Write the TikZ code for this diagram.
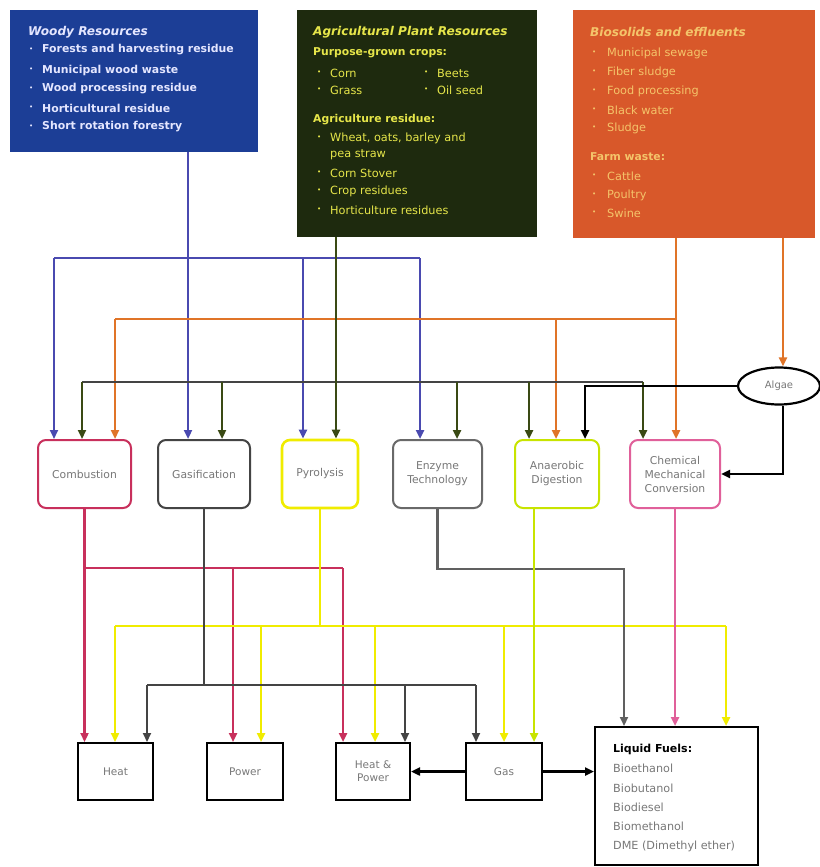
\documentclass[tikz,border=0pt]{standalone}
\usepackage{fontspec}
\setmainfont{DejaVu Sans}
\usetikzlibrary{arrows.meta,shapes.geometric}
\definecolor{woodybg}{HTML}{1C3E96}
\definecolor{woodytx}{HTML}{E4E6FF}
\definecolor{agribg}{HTML}{1E2A0E}
\definecolor{agritx}{HTML}{E6E64A}
\definecolor{orngbg}{HTML}{D8582A}
\definecolor{orngtx}{HTML}{F4C46A}
\definecolor{blueln}{HTML}{4A4AB0}
\definecolor{oliveln}{HTML}{3A4A14}
\definecolor{orangeln}{HTML}{E07428}
\definecolor{crimln}{HTML}{C8305C}
\definecolor{yelln}{HTML}{F0EC00}
\definecolor{ygln}{HTML}{C8E400}
\definecolor{pinkln}{HTML}{E0609A}
\definecolor{grayln}{HTML}{444444}
\definecolor{proctx}{HTML}{787878}
\begin{document}
\begin{tikzpicture}[x=1pt,y=-1pt,
  srcbox/.style={rectangle,inner sep=0pt,anchor=north west},
  title/.style={anchor=west,inner sep=0pt,font=\fontsize{12.1}{14}\selectfont\bfseries\itshape},
  head/.style={anchor=west,inner sep=0pt,font=\fontsize{10.8}{13}\selectfont\bfseries},
  itm/.style={anchor=west,inner sep=0pt,font=\fontsize{11.3}{13}\selectfont},
  bul/.style={anchor=west,inner sep=0pt,font=\fontsize{7}{8}\selectfont},
  proc/.style={rectangle,rounded corners=8pt,draw,line width=2pt,fill=white,
    minimum height=68pt,align=center,inner sep=2pt,text=proctx,
    font=\fontsize{10.8}{14}\selectfont},
  outbox/.style={rectangle,draw=black,line width=2pt,fill=white,
    minimum height=57pt,align=center,inner sep=2pt,text=proctx,
    font=\fontsize{10.5}{13}\selectfont},
  arr/.style={-{Triangle[length=9pt,width=8pt]}},
  bl/.style={draw=blueln,line width=2.4pt},
  ol/.style={draw=oliveln,line width=2.8pt},
  olthin/.style={draw=grayln,line width=1.8pt},
  orl/.style={draw=orangeln,line width=2.8pt},
  cr/.style={draw=crimln,line width=2.8pt},
  yl/.style={draw=yelln,line width=2.8pt},
  yg/.style={draw=ygln,line width=2.8pt},
  pk/.style={draw=pinkln,line width=2.5pt},
  gr/.style={draw=grayln,line width=2.1pt},
  bk/.style={draw=black,line width=2.4pt}
]
\useasboundingbox[fill=white] (0,0) rectangle (819,867);

% ---------- source boxes ----------
\node[srcbox,fill=woodybg,minimum width=248pt,minimum height=142pt] (woody) at (10,10) {};
\node[title,text=woodytx] (wt) at (28,32) {Woody Resources};
\foreach \y/\t [count=\i] in {50/Forests and harvesting residue,70/Municipal wood waste,89/Wood processing residue,108/Horticultural residue,127/Short rotation forestry}{
  \node[bul,text=woodytx] (wb\i) at (29,\y) {•};
  \node[itm,text=woodytx,font=\fontsize{10.9}{13}\selectfont\bfseries] (wi\i) at (42,\y) {\t};
}

\node[srcbox,fill=agribg,minimum width=240pt,minimum height=227pt] (agri) at (297,10) {};
\node[title,text=agritx] (at) at (313,32) {Agricultural Plant Resources};
\node[head,text=agritx] (ah1) at (313,53) {Purpose-grown crops:};
\node[bul,text=agritx] (ab1) at (317,73) {•};
\node[itm,text=agritx] (ai1) at (330,73) {Corn};
\node[bul,text=agritx] (ab2) at (424,73) {•};
\node[itm,text=agritx] (ai2) at (437,73) {Beets};
\node[bul,text=agritx] (ab3) at (317,90) {•};
\node[itm,text=agritx] (ai3) at (330,90) {Grass};
\node[bul,text=agritx] (ab4) at (424,90) {•};
\node[itm,text=agritx] (ai4) at (437,90) {Oil seed};
\node[head,text=agritx] (ah2) at (313,120) {Agriculture residue:};
\node[bul,text=agritx] (ab5) at (317,138) {•};
\node[itm,text=agritx] (ai5) at (330,138) {Wheat, oats, barley and};
\node[itm,text=agritx] (ai6) at (330,155) {pea straw};
\foreach \y/\t [count=\i] in {173/Corn Stover,191/Crop residues,210/Horticulture residues}{
  \node[bul,text=agritx] (abx\i) at (317,\y) {•};
  \node[itm,text=agritx] (aix\i) at (330,\y) {\t};
}

\node[srcbox,fill=orngbg,minimum width=242pt,minimum height=228pt] (orng) at (573,10) {};
\node[title,text=orngtx] (ot) at (590,32) {Biosolids and effluents};
\foreach \y/\t [count=\i] in {53/Municipal sewage,72/Fiber sludge,91/Food processing,110/Black water,128/Sludge}{
  \node[bul,text=orngtx] (ob\i) at (592,\y) {•};
  \node[itm,text=orngtx] (oi\i) at (607,\y) {\t};
}
\node[head,text=orngtx] (oh) at (590,157) {Farm waste:};
\foreach \y/\t [count=\i] in {176/Cattle,195/Poultry,213/Swine}{
  \node[bul,text=orngtx] (obx\i) at (592,\y) {•};
  \node[itm,text=orngtx] (oix\i) at (607,\y) {\t};
}

% ---------- process nodes ----------
\node[proc,draw=crimln,minimum width=93pt] (comb) at (84.5,474) {Combustion};
\node[proc,draw=grayln,minimum width=92pt] (gasi) at (204,474) {Gasification};
\node[proc,draw=yelln,line width=2.6pt,minimum width=76pt] (pyro) at (320,474) {Pyrolysis};
\node[proc,draw=grayln!80,minimum width=89pt] (enz) at (437.5,474) {Enzyme\\Technology};
\node[proc,draw=ygln,minimum width=84pt] (anae) at (557,474) {Anaerobic\\Digestion};
\node[proc,draw=pinkln,minimum width=90pt] (chem) at (675,474) {Chemical\\Mechanical\\Conversion};
\node[ellipse,draw=black,line width=2.2pt,fill=white,minimum width=82pt,minimum height=37pt,inner sep=0pt,text=proctx,font=\fontsize{10}{12}\selectfont] (algae) at (779,386) {Algae};

% ---------- output nodes ----------
\node[outbox,minimum width=75pt] (heat) at (115.5,771.5) {Heat};
\node[outbox,minimum width=76pt] (power) at (245,771.5) {Power};
\node[outbox,minimum width=74pt] (hp) at (373,771.5) {Heat \&\\Power};
\node[outbox,minimum width=76pt] (gas) at (504,771.5) {Gas};
\node[rectangle,draw=black,line width=2pt,fill=white,minimum width=163pt,minimum height=138pt] (liq) at (676.5,796) {};
\node[anchor=west,inner sep=0pt,font=\fontsize{11}{13}\selectfont\bfseries] (lq0) at (613,749) {Liquid Fuels:};
\foreach \y/\t [count=\i] in {768/Bioethanol,788/Biobutanol,807/Biodiesel,826/Biomethanol,846/DME (Dimethyl ether)}{
  \node[anchor=west,inner sep=0pt,text=proctx,font=\fontsize{11.2}{13}\selectfont] (lq\i) at (613,\y) {\t};
}

% ---------- coordinates ----------
\coordinate (b1) at (54,258);  \coordinate (b2) at (188,258);
\coordinate (b3) at (303,258); \coordinate (b4) at (420,258);
\coordinate (o1) at (82,382);  \coordinate (o2) at (222,382);
\coordinate (o3) at (336,382); \coordinate (o4) at (457,382);
\coordinate (o5) at (529,382); \coordinate (o6) at (643,382);
\coordinate (r1) at (115,319); \coordinate (r2) at (556,319);
\coordinate (r3) at (676,319); \coordinate (r4) at (783,319);
\coordinate (a1) at (585,387);
\coordinate (c1) at (84.5,568); \coordinate (c2) at (233,568); \coordinate (c3) at (343,568);
\coordinate (g1) at (147,685); \coordinate (g2) at (204,685); \coordinate (g3) at (405,685); \coordinate (g4) at (476,685);
\coordinate (y1) at (115,626); \coordinate (y2) at (261,626); \coordinate (y3) at (320,626);
\coordinate (y4) at (375,626); \coordinate (y5) at (504,626); \coordinate (y6) at (726,626);
\coordinate (e1) at (437.5,569); \coordinate (e2) at (624,569);
\coordinate (v1) at (534,520);

% ---------- blue: woody ----------
\draw[bl] (b1) -- (b4);
\draw[bl,arr] (woody.south -| b2) -- (gasi.north -| b2);
\draw[bl,arr] (b1) -- (comb.north -| b1);
\draw[bl,arr] (b3) -- (pyro.north -| b3);
\draw[bl,arr] (b4) -- (enz.north -| b4);

% ---------- orange: biosolids ----------
\draw[orl] (r1) -- (r3);
\draw[orl,arr] (orng.south -| r3) -- (chem.north -| r3);
\draw[orl,arr] (r1) -- (comb.north -| r1);
\draw[orl,arr] (r2) -- (anae.north -| r2);
\draw[orl,arr] (orng.south -| r4) -- (algae.north -| r4);

% ---------- olive: agricultural ----------
\draw[olthin] (o1) -- (o6);
\draw[ol,arr] (agri.south -| o3) -- (pyro.north -| o3);
\draw[ol,arr] (o1) -- (comb.north -| o1);
\draw[ol,arr] (o2) -- (gasi.north -| o2);
\draw[ol,arr] (o4) -- (enz.north -| o4);
\draw[ol,arr] (o5) -- (anae.north -| o5);
\draw[ol,arr] (o6) -- (chem.north -| o6);

% ---------- algae ----------
\draw[bk,arr] (algae.west) -| (anae.north -| a1);
\draw[bk,arr] (algae.south -| r4) |- (chem.east);

% ---------- combustion ----------
\draw[cr] (c1) -- (c3);
\draw[cr,arr] (comb.south) -- (heat.north -| c1);
\draw[cr,arr] (c2) -- (power.north -| c2);
\draw[cr,arr] (c3) -- (hp.north -| c3);

% ---------- pyrolysis ----------
\draw[yl] (pyro.south) -- (y3);
\draw[yl] (y1) -- (y6);
\draw[yl,arr] (y1) -- (heat.north -| y1);
\draw[yl,arr] (y2) -- (power.north -| y2);
\draw[yl,arr] (y4) -- (hp.north -| y4);
\draw[yl,arr] (y5) -- (gas.north -| y5);
\draw[yl,arr] (y6) -- (liq.north -| y6);

% ---------- gasification ----------
\draw[gr] (gasi.south) -- (g2);
\draw[gr] (g1) -- (g4);
\draw[gr,arr] (g1) -- (heat.north -| g1);
\draw[gr,arr] (g3) -- (hp.north -| g3);
\draw[gr,arr] (g4) -- (gas.north -| g4);

% ---------- enzyme ----------
\draw[gr,draw=grayln!85,arr] (enz.south) -- (e1) -- (e2) -- (liq.north -| e2);

% ---------- anaerobic ----------
\draw[yg,arr] (anae.south -| v1) -- (gas.north -| v1);

% ---------- chemical ----------
\draw[pk,arr] (chem.south) -- (liq.north -| chem.south);

% ---------- gas outputs ----------
\draw[bk,arr] (gas.west) -- (hp.east);
\draw[bk,arr] (gas.east) -- (liq.west |- gas.east);
\end{tikzpicture}
\end{document}
